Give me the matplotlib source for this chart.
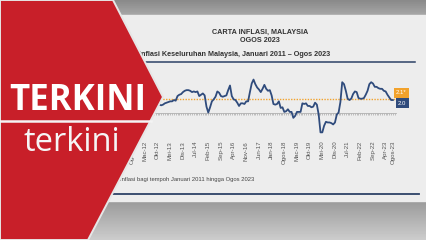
import numpy as np
import matplotlib.pyplot as plt
from matplotlib.patches import Polygon, Rectangle
from matplotlib.ticker import FixedLocator, MultipleLocator

# headline inflation (%), monthly, Jan 2011 - Ogos 2023
inflasi = [
    2.4, 2.9, 3.0, 3.2, 3.3, 3.5, 3.4, 3.3, 3.4, 3.4, 3.3, 3.0,    # 2011
    2.7, 2.2, 2.1, 1.9, 1.7, 1.6, 1.4, 1.4, 1.3, 1.3, 1.3, 1.2,    # 2012
    1.3, 1.5, 1.6, 1.7, 1.8, 1.8, 2.0, 1.9, 2.6, 2.8, 2.9, 3.2,    # 2013
    3.4, 3.5, 3.5, 3.4, 3.2, 3.3, 3.2, 3.3, 2.6, 2.8, 3.0, 2.7,    # 2014
    1.0, 0.1, 0.9, 1.8, 2.1, 2.5, 3.3, 3.1, 2.6, 2.5, 2.6, 2.7,    # 2015
    3.5, 4.2, 2.6, 2.1, 2.0, 1.6, 1.1, 1.5, 1.5, 1.4, 1.8, 1.8,    # 2016
    3.2, 4.5, 5.1, 4.4, 3.9, 3.6, 3.2, 3.7, 4.3, 3.7, 3.4, 3.5,    # 2017
    2.7, 1.4, 1.3, 1.4, 1.8, 0.8, 0.9, 0.2, 0.3, 0.6, 0.2, 0.2,    # 2018
    -0.7, -0.4, 0.2, 0.2, 0.2, 1.5, 1.4, 1.5, 1.1, 1.1, 0.9, 1.0,  # 2019
    1.6, 1.3, -0.2, -2.9, -2.9, -1.9, -1.3, -1.4, -1.4, -1.5, -1.7, -1.4,  # 2020
    -0.2, 0.1, 1.7, 4.7, 4.4, 3.4, 2.2, 2.0, 2.2, 2.9, 3.3, 3.2,   # 2021
    2.3, 2.2, 2.2, 2.3, 2.8, 3.4, 4.4, 4.7, 4.5, 4.0, 4.0, 3.8,    # 2022
    3.7, 3.7, 3.4, 3.3, 2.8, 2.4, 2.0, 2.0,                        # 2023
]
purata = 2.1
label_purata = "2.1*"
label_akhir = "2.0"
bulan = ["Jan", "Feb", "Mac", "Apr", "Mei", "Jun",
         "Jul", "Ogos", "Sep", "Okt", "Nov", "Dis"]
tahun_mula = 2011

W, H = 426, 240
RED = "#c81f29"
NAVY = "#2f4b7c"
ORANGE = "#f2a22c"


def px(x0, y0, x1, y1):
    # pixel box (top-left origin) -> figure fraction rect
    return [x0 / W, 1 - y1 / H, (x1 - x0) / W, (y1 - y0) / H]


fig = plt.figure(figsize=(W / 100, H / 100), dpi=100)

# background: studio wall + white card
bg = fig.add_axes([0, 0, 1, 1], zorder=0)
bg.set_xlim(0, W)
bg.set_ylim(H, 0)
bg.axis("off")
top_grad = np.linspace(0.54, 0.66, 20).reshape(-1, 1)
bg.imshow(top_grad, cmap="gray", vmin=0, vmax=1, aspect="auto",
          extent=(0, W, 16, 0))
bot_grad = np.linspace(0.60, 0.80, 40).reshape(-1, 1)
bg.imshow(bot_grad, cmap="gray", vmin=0, vmax=1, aspect="auto",
          extent=(0, W, H, 200))
bg.add_patch(Rectangle((95, 15), W - 95, 186, color="#ededed", zorder=2))
bg.plot([130, 415], [62, 62], color="#2d4266", lw=1.1, zorder=3)
bg.plot([100, 419], [193.5, 193.5], color="#2d4266", lw=1.3, zorder=3)

bg.text(260, 32, "CARTA INFLASI, MALAYSIA", ha="center", va="center",
        fontsize=5.2, fontweight="bold", family="Liberation Sans",
        color="#333333", zorder=4)
bg.text(260, 41, "OGOS 2023", ha="center", va="center",
        fontsize=5.2, fontweight="bold", family="Liberation Sans",
        color="#333333", zorder=4)
bg.text(139, 54, "Inflasi Keseluruhan Malaysia, Januari 2011 \u2013 Ogos 2023",
        ha="left", va="center", fontsize=5.2, fontweight="bold",
        family="Liberation Sans", color="#333333", zorder=4)
bg.text(120, 179.5, "Inflasi bagi tempoh Januari 2011 hingga Ogos 2023",
        ha="left", va="center", fontsize=4.2, family="Liberation Sans",
        color="#444444", zorder=4)

# chart
ax = fig.add_axes(px(110, 70, 395.6, 135), zorder=1)
ax.patch.set_alpha(0)
months = np.arange(len(inflasi))
ax.plot(months, inflasi, color=NAVY, lw=1.3, zorder=3)
ax.axhline(purata, color=ORANGE, lw=1.0, ls=(0, (1, 1)), zorder=2)
ax.set_xlim(-5.3, 152.5)
ax.set_ylim(-3.3, 6.55)

for s in ["top", "right", "left"]:
    ax.spines[s].set_visible(False)
ax.spines["bottom"].set_position(("data", 0))
ax.spines["bottom"].set_color("#b0b0b0")
ax.spines["bottom"].set_linewidth(0.6)
ax.set_yticks([])

tick_idx = list(range(7, len(inflasi), 7)) + [len(inflasi) - 1]
tick_lab = [f"{bulan[i % 12]}-{(tahun_mula + i // 12) % 100:02d}"
            for i in tick_idx]
ax.xaxis.set_major_locator(FixedLocator(tick_idx))
ax.set_xticklabels(tick_lab, rotation=90, fontsize=4.4,
                   family="Liberation Sans", color="#555555")
ax.xaxis.set_minor_locator(MultipleLocator(1))
ax.tick_params(axis="x", which="major", length=1.4, width=0.4,
               color="#999999", pad=18.5)
ax.tick_params(axis="x", which="minor", length=1.4, width=0.4,
               color="#999999")

ax.annotate(label_purata, xy=(months[-1], purata), xytext=(6.2, 4.6),
            textcoords="offset points", ha="center", va="center",
            fontsize=4.3, color="white", family="Liberation Sans",
            bbox=dict(boxstyle="square,pad=0.4", fc=ORANGE, ec="none"),
            annotation_clip=False)
ax.annotate(label_akhir, xy=(months[-1], inflasi[-1]), xytext=(6.8, -2.4),
            textcoords="offset points", ha="center", va="center",
            fontsize=4.3, color="white", family="Liberation Sans",
            bbox=dict(boxstyle="square,pad=0.4", fc=NAVY, ec="none"),
            annotation_clip=False)

# red "TERKINI" banner on top
fg = fig.add_axes([0, 0, 1, 1], zorder=3)
fg.set_xlim(0, W)
fg.set_ylim(H, 0)
fg.axis("off")
fg.patch.set_alpha(0)
fg.add_patch(Polygon([(0, 0), (113, 0), (163, 97), (88, 240), (0, 240)],
                     closed=True, fc=RED, ec="#e6e6e6", lw=1.4))
fg.plot([0, 151], [120.5, 120.5], color="#f4f4f4", lw=1.8)
fg.text(77.5, 110, "TERKINI", ha="center", va="baseline", fontsize=25,
        fontweight="bold", family="Open Sans", color="white")
fg.text(72, 151, "terkini", ha="center", va="baseline", fontsize=23.5,
        family="Open Sans", color="#f6f6f6")

fig.savefig("out.png", dpi=100)
